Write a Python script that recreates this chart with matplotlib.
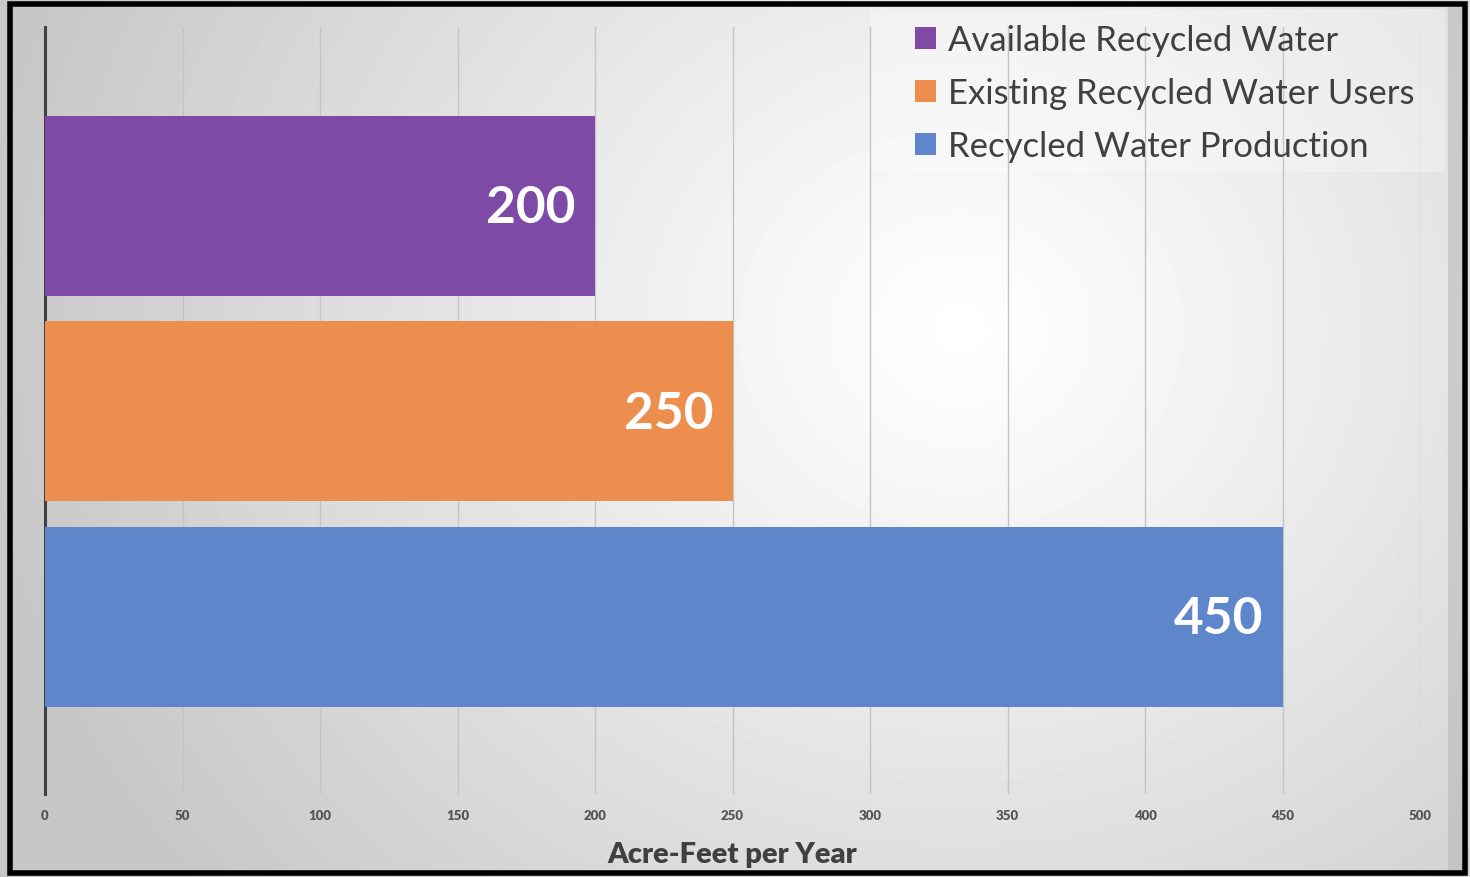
import matplotlib
matplotlib.use('Agg')
import matplotlib.pyplot as plt
from matplotlib.patches import Rectangle
import numpy as np

# data
categories = ['Available Recycled Water', 'Existing Recycled Water Users', 'Recycled Water Production']
values = [200, 250, 450]
barColors = ['#7e4aa6', '#ee8e4e', '#5f86cb']
xTicks = [0, 50, 100, 150, 200, 250, 300, 350, 400, 450, 500]

plt.rcParams['font.family'] = ['Lato', 'DejaVu Sans']

W, H = 1470, 878
fig = plt.figure(figsize=(W / 100, H / 100), dpi=100)

# radial gradient background
bg = fig.add_axes([0, 0, 1, 1])
yy, xx = np.mgrid[0:H, 0:W]
r = np.sqrt(((xx - 960) / 1.0) ** 2 + ((yy - 330) / 0.9) ** 2)
g = np.clip(1.0 - 0.20 * (r / 900.0) ** 1.1, 0.78, 1.0)
bg.imshow(g, cmap='gray', vmin=0, vmax=1, extent=[0, W, H, 0], aspect='auto')
bg.add_patch(Rectangle((1448, 8), 14, 864, facecolor='#b4b4b4', alpha=0.5, edgecolor='none'))
bg.add_patch(Rectangle((870, 10), 575, 163, facecolor='white', alpha=0.3, edgecolor='none'))
bg.add_patch(Rectangle((10, 5), 1455, 869, facecolor='none', edgecolor='black', linewidth=4))
bg.set_xlim(0, W)
bg.set_ylim(H, 0)
bg.axis('off')

# main chart
ax = fig.add_axes([45 / W, 1 - 795 / H, (1420 - 45) / W, (795 - 28) / H])
ax.patch.set_alpha(0)
ypos = np.arange(len(categories))
bars = ax.barh(ypos, values, height=0.876, color=barColors, zorder=3)
for b, c in zip(bars, categories):
    b.set_label(c)
for y, v in zip(ypos, values):
    ax.text(v - 7, y + 0.01, str(v), color='white', fontsize=37, fontweight='bold',
            ha='right', va='center', zorder=4)

ax.set_xlim(0, 500)
ax.set_ylim(2.863, -0.869)
ax.set_xticks(xTicks)
ax.set_yticks([])
ax.grid(axis='x', color='#c4c4c4', linewidth=1, zorder=1)
ax.tick_params(axis='x', length=0, pad=11, labelsize=9.5, labelcolor='#555555')
for lbl in ax.get_xticklabels():
    lbl.set_fontweight('heavy')
for s in ['top', 'right', 'bottom']:
    ax.spines[s].set_visible(False)
ax.spines['left'].set_color('#404040')
ax.spines['left'].set_linewidth(2.2)
ax.set_xlabel('Acre-Feet per Year', fontsize=21, fontweight='heavy', color='#404040', labelpad=14)

leg = ax.legend(loc='upper left', bbox_to_anchor=(915 / W, 1 - 25 / H), bbox_transform=fig.transFigure,
                fontsize=25, frameon=False, handlelength=0.6, handleheight=0.6, handletextpad=0.35,
                labelspacing=0.61, borderpad=0, borderaxespad=0)
for t in leg.get_texts():
    t.set_color('#404040')

fig.savefig('out.png', dpi=100)
